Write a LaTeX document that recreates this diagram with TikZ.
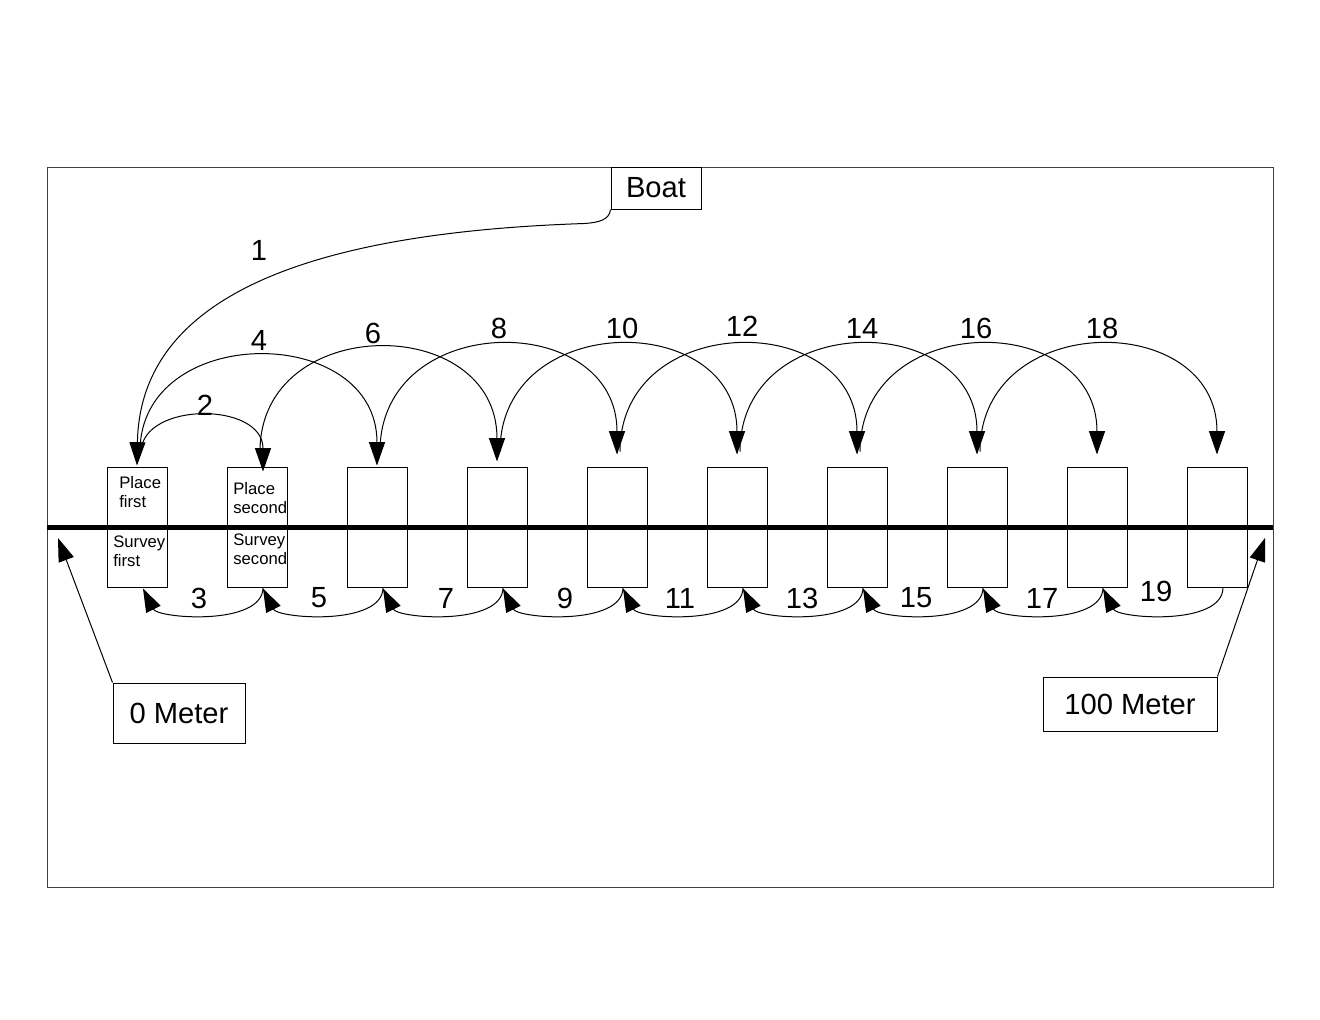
\documentclass[tikz,border=0pt]{standalone}
\usepackage{fontspec}
\setmainfont{Liberation Sans}
\usetikzlibrary{calc}
\usetikzlibrary{arrows.meta}
\newcommand{\bigtxt}{\fontsize{17.5}{21}\selectfont}
\newcommand{\smalltxt}{\fontsize{10}{11.4}\selectfont}
\tikzset{
  stake/.style={draw,line width=0.6pt,minimum width=36pt,minimum height=72pt,inner sep=0pt},
  tag/.style={draw,line width=0.6pt,inner sep=0pt,font=\bigtxt},
  hop/.style={line width=0.6pt,-{Triangle[length=14pt,width=9.6pt]}},
  note/.style={inner sep=0pt,align=left,anchor=north west,font=\smalltxt},
  num/.style={inner sep=0pt,font=\bigtxt}
}

\begin{document}
\begin{tikzpicture}[x=0.6pt,y=-0.6pt]
    \useasboundingbox (0,0) rectangle (1320,1020);

    % Frame
    \draw[line width=0.6pt,black!75] (47,167) rectangle (1273,887);

    % Stakes and the line
    \foreach \i in {1,...,10}
      \node[stake] (b\i) at ({137+120*(\i-1)},527) {};
    \draw[line width=3pt] (47,527) -- (1273,527);

    \node[note] (p1) at (119,476) {Place\\first};
    \node[note] (s1) at (113,536) {Survey\\first};
    \node[note] (p2) at (233,482) {Place\\second};
    \node[note] (s2) at (233,534) {Survey\\second};

    % Boxes with a name
    \node[tag,minimum width=54pt,minimum height=25.2pt] (boat) at (656,188) {Boat};
    \node[tag,minimum width=79.2pt,minimum height=36pt] (m0) at (179,713) {0 Meter};
    \node[tag,minimum width=104.4pt,minimum height=32.4pt] (m100) at (1130,704) {100 Meter};

    % From the boat
    \draw[hop] (boat.south west)
      .. controls ($(boat.south west)+(-1,10)$) and ($(boat.south west)+(-11,13)$) .. ($(boat.south west)+(-26,14)$)
      .. controls (300,233) and (140,300) .. ($(b1.north)+(0,-1)$);

    % Place the second
    \draw[hop] ($(b1.north)+(4,-15)$)
      .. controls ($(b1.north)+(6,-65)$) and ($(b2.north)+(6,-65)$) .. ($(b2.north)+(6,5)$);

    % Jumps over one stake
    \foreach \a/\b/\c/\e in {1/3/-144/-1, 2/4/-154/-5, 3/5/-157/-12, 4/6/-157/-12,
                             5/7/-157/-12, 6/8/-157/-12, 7/9/-157/-12, 8/10/-157/-12}
      \draw[hop] ($(b\a.north)+(3,-15)$)
        .. controls ($(b\a.north)+(3,\c)$) and ($(b\b.north)+(0,\c)$) .. ($(b\b.north)+(0,\e)$);

    % Back to survey
    \foreach \i in {1,...,9} {
      \pgfmathtruncatemacro{\j}{\i+1}
      \draw[hop] ($(b\j.south)+(6,0)$)
        .. controls ($(b\j.south)+(6,39)$) and ($(b\i.south)+(21,31)$) .. ($(b\i.south)+(6,1)$);
    }

    % Ends of the line
    \coordinate (z0) at (58,538);
    \coordinate (z100) at (1265,538);
    \draw[hop] (m0.north west) -- (z0);
    \draw[hop] (m100.north east) -- (z100);

    % Step numbers
    \foreach \t/\x/\y in {1/259/250, 2/205/405, 4/259/340, 6/373/333, 8/499/328,
                          10/622/328, 12/742/326, 14/862/328, 16/976/328, 18/1102/328,
                          3/199/598, 5/319/598, 7/446/598, 9/565/598, 11/680/598,
                          13/802/598, 15/916/598, 17/1042/598, 19/1156/591}
      \node[num] (n\t) at (\x,\y) {\t};

  \end{tikzpicture}
\end{document}
